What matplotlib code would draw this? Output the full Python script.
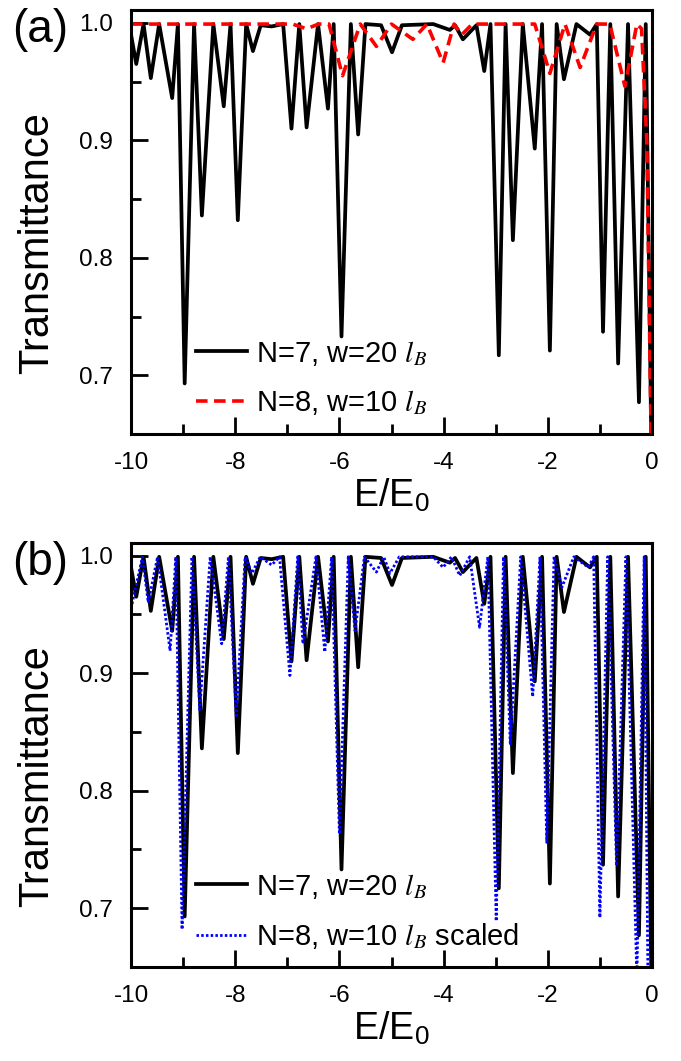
import matplotlib
matplotlib.use("Agg")
import matplotlib.pyplot as plt
from matplotlib.ticker import MultipleLocator

plt.rcParams['font.family'] = ['Liberation Sans', 'DejaVu Sans']
plt.rcParams['mathtext.fontset'] = 'stix'

# N=7, w=20 lB (same curve in both panels)
e_n7 = [-10.0, -9.90, -9.76, -9.62, -9.46, -9.21, -9.10, -8.97, -8.79, -8.64,
        -8.42, -8.22, -8.09, -7.95, -7.79, -7.66, -7.51, -7.30, -7.08, -6.92,
        -6.77, -6.63, -6.41, -6.22, -6.11, -5.96, -5.78, -5.64, -5.50, -5.20,
        -4.99, -4.80, -4.20, -3.88, -3.78, -3.63, -3.37, -3.22, -3.10, -2.94,
        -2.81, -2.67, -2.48, -2.25, -2.11, -1.96, -1.83, -1.69, -1.45, -1.19,
        -1.06, -0.94, -0.80, -0.65, -0.46, -0.25, -0.12, 0.0]
t_n7 = [0.990, 0.965, 0.999, 0.953, 0.999, 0.936, 0.999, 0.693, 0.999, 0.836,
        0.999, 0.929, 0.999, 0.832, 0.999, 0.976, 0.998, 0.997, 0.999, 0.910,
        0.999, 0.911, 0.999, 0.927, 0.999, 0.733, 0.999, 0.905, 0.999, 0.998,
        0.975, 0.998, 0.999, 0.994, 0.998, 0.986, 0.998, 0.959, 0.999, 0.717,
        0.999, 0.815, 0.999, 0.893, 0.999, 0.721, 0.999, 0.952, 0.999, 0.990,
        0.999, 0.737, 0.999, 0.710, 0.999, 0.677, 0.999, 0.600]

# N=8, w=10 lB
e_n8 = [-10.0, -6.90, -6.63, -6.40, -6.20, -5.94, -5.60, -5.29, -5.00, -4.59,
        -4.32, -4.01, -3.80, -3.65, -3.45, -2.25, -1.96, -1.67, -1.38, -1.06,
        -0.81, -0.52, -0.29, -0.20, -0.10, 0.0]
t_n8 = [0.999, 0.999, 0.995, 0.999, 0.999, 0.955, 0.999, 0.980, 0.999, 0.986,
        0.999, 0.966, 0.999, 0.990, 0.999, 0.999, 0.957, 0.999, 0.962, 0.999,
        0.999, 0.946, 0.999, 0.995, 0.900, 0.600]

# N=8, w=10 lB scaled
e_n8s = [-10.0, -9.78, -9.67, -9.49, -9.25, -9.14, -9.02, -8.83, -8.68, -8.48,
         -8.26, -8.13, -7.98, -7.81, -7.68, -7.52, -7.30, -7.15, -6.95, -6.80,
         -6.70, -6.45, -6.28, -6.15, -6.00, -5.83, -5.70, -5.52, -5.29, -5.15,
         -5.03, -4.85, -4.20, -4.01, -3.85, -3.69, -3.50, -3.31, -3.15, -2.99,
         -2.85, -2.72, -2.52, -2.29, -2.15, -2.02, -1.88, -1.73, -1.50, -1.22,
         -1.12, -1.00, -0.85, -0.68, -0.50, -0.29, -0.15, -0.07]
t_n8s = [0.955, 0.999, 0.960, 0.999, 0.919, 0.999, 0.682, 0.999, 0.869, 0.999,
         0.925, 0.999, 0.864, 0.999, 0.985, 0.999, 0.992, 0.999, 0.898, 0.999,
         0.925, 0.999, 0.918, 0.999, 0.763, 0.999, 0.936, 0.999, 0.986, 0.999,
         0.985, 0.999, 0.999, 0.990, 0.999, 0.983, 0.999, 0.939, 0.999, 0.689,
         0.999, 0.840, 0.999, 0.880, 0.999, 0.756, 0.999, 0.973, 0.999, 0.990,
         0.999, 0.692, 0.999, 0.736, 0.999, 0.640, 0.999, 0.600]

x_ticks = [-10, -8, -6, -4, -2, 0]
y_ticks = [0.7, 0.8, 0.9, 1.0]

lab7 = r'N=7, w=20 $l_B$'
lab8 = r'N=8, w=10 $l_B$'
lab8s = r'N=8, w=10 $l_B$ scaled'

fig = plt.figure(figsize=(6.81, 10.61), dpi=100)
ax_a = fig.add_axes([0.1924, 0.591, 0.765, 0.3996])
ax_b = fig.add_axes([0.1924, 0.0886, 0.765, 0.3999])

ax_a.plot(e_n7, t_n7, color='black', lw=2.7, label=lab7)
ax_a.plot(e_n8, t_n8, color='red', lw=2.6, dashes=(3.2, 1.8), label=lab8)
ax_b.plot(e_n7, t_n7, color='black', lw=2.7, label=lab7)
ax_b.plot(e_n8s, t_n8s, color='blue', lw=2.0, dashes=(0.9, 0.8),
          label=lab8s)

for ax, tag in [(ax_a, '(a)'), (ax_b, '(b)')]:
    ax.set_xlim(-10, 0)
    ax.set_ylim(0.65, 1.011)
    ax.set_xticks(x_ticks)
    ax.set_xticklabels([str(v) for v in x_ticks])
    ax.set_yticks(y_ticks)
    ax.set_yticklabels(['%.1f' % v for v in y_ticks])
    ax.xaxis.set_minor_locator(MultipleLocator(1))
    ax.yaxis.set_minor_locator(MultipleLocator(0.05))
    ax.tick_params(which='both', direction='in', top=False, right=False,
                   width=2, labelsize=17.5)
    ax.tick_params(which='major', length=12, pad=13)
    ax.tick_params(which='minor', length=7)
    for s in ax.spines.values():
        s.set_linewidth(2.2)
    ax.set_xlabel('E/E$_\\mathregular{0}$', fontsize=27, labelpad=3)
    ax.set_ylabel('Transmittance', fontsize=30)
    ax.yaxis.set_label_coords(-0.142, 0.45)
    ax.text(-0.228, 1.005, tag, transform=ax.transAxes, fontsize=33,
            ha='left', va='top')
    ax.legend(loc='upper left', bbox_to_anchor=(0.125, 0.225), frameon=False,
              fontsize=21, handlelength=1.75, handletextpad=0.3,
              borderpad=0, borderaxespad=0, labelspacing=0.7)

fig.savefig('out.png', dpi=100)
